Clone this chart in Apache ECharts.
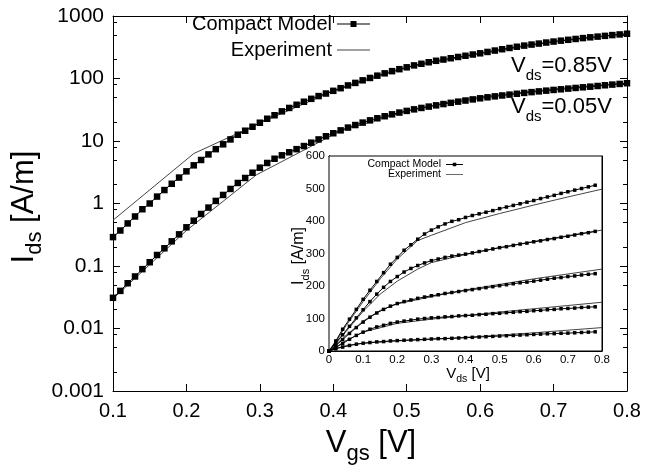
<!DOCTYPE html>
<html>
<head>
<meta charset="utf-8">
<script src="https://cdn.jsdelivr.net/npm/echarts@6/dist/echarts.min.js"></script>
<style>
html, body { margin: 0; padding: 0; background: #fff; }
#chart { width: 645px; height: 466px; }
</style>
</head>
<body>
<div id="chart"></div>
<script>
// main plot: Ids vs Vgs (log scale), model every 0.01 V
var VGS_MODEL = [0.10, 0.11, 0.12, 0.13, 0.14, 0.15, 0.16, 0.17, 0.18, 0.19,
    0.20, 0.21, 0.22, 0.23, 0.24, 0.25, 0.26, 0.27, 0.28, 0.29,
    0.30, 0.31, 0.32, 0.33, 0.34, 0.35, 0.36, 0.37, 0.38, 0.39,
    0.40, 0.41, 0.42, 0.43, 0.44, 0.45, 0.46, 0.47, 0.48, 0.49,
    0.50, 0.51, 0.52, 0.53, 0.54, 0.55, 0.56, 0.57, 0.58, 0.59,
    0.60, 0.61, 0.62, 0.63, 0.64, 0.65, 0.66, 0.67, 0.68, 0.69,
    0.70, 0.71, 0.72, 0.73, 0.74, 0.75, 0.76, 0.77, 0.78, 0.79, 0.80];
var MODEL_VDS085 = [0.29, 0.37, 0.48, 0.62, 0.81, 1.0, 1.29, 1.64, 2.07, 2.6,
    3.27, 4.08, 4.97, 6.1, 7.4, 8.85, 10.6, 12.6, 14.6, 16.9,
    19.6, 22.7, 25.8, 29.8, 33.8, 38, 42.5, 47.3, 52.3, 57.5,
    63.5, 70, 77.5, 85, 93.5, 102, 111, 121, 131, 141,
    151, 162, 172, 182, 192, 201, 211, 221, 231, 242,
    253, 266, 280, 294, 308, 322, 336, 349, 362, 376,
    390, 403, 416, 429, 443, 456, 468, 481, 495, 507, 520];
var MODEL_VDS005 = [0.031, 0.040, 0.053, 0.068, 0.089, 0.115, 0.150, 0.192, 0.248, 0.321,
    0.416, 0.531, 0.68, 0.86, 1.10, 1.37, 1.71, 2.13, 2.56, 3.11,
    3.74, 4.45, 5.2, 5.9, 6.6, 7.4, 8.3, 9.4, 10.6, 11.9,
    13.3, 14.8, 16.4, 18.0, 19.7, 21.4, 23.1, 24.9, 26.7, 28.5,
    30.3, 32.1, 33.8, 35.5, 37.2, 39.0, 40.8, 42.6, 44.4, 46.3,
    48.2, 50.0, 51.8, 53.5, 55.2, 57.0, 58.8, 60.5, 62.2, 63.9,
    65.6, 67.2, 68.9, 70.6, 72.3, 74.0, 75.9, 77.9, 79.9, 81.9, 84.0];
var EXP_VDS085 = [[0.10, 0.54], [0.21, 6.3], [0.27, 13.3], [0.30, 19.4], [0.40, 63],
    [0.50, 150], [0.60, 250], [0.70, 388], [0.80, 518]];
var EXP_VDS005 = [[0.10, 0.030], [0.20, 0.37], [0.295, 2.86], [0.41, 14.5], [0.50, 30],
    [0.58, 48], [0.70, 68], [0.80, 85]];

// inset: Ids vs Vds (linear), model every 0.02 V
var VDS_MODEL = [0, 0.02, 0.04, 0.06, 0.08, 0.10, 0.12, 0.14, 0.16, 0.18,
    0.20, 0.22, 0.24, 0.26, 0.28, 0.30, 0.32, 0.34, 0.36, 0.38,
    0.40, 0.42, 0.44, 0.46, 0.48, 0.50, 0.52, 0.54, 0.56, 0.58,
    0.60, 0.62, 0.64, 0.66, 0.68, 0.70, 0.72, 0.74, 0.76, 0.78];
var MODEL_VGS08 = [0, 31, 67, 98, 128, 159, 187, 214, 241, 267, 288, 310, 327, 344, 360, 372, 382, 391, 399, 404,
    411, 417, 422, 427, 432, 438, 443, 448, 453, 458, 463, 469, 474, 479, 485, 490, 495, 500, 505, 510];
var MODEL_VGS07 = [0, 26, 50, 76, 102, 127, 152, 175, 196, 214, 229, 243, 254, 263, 271, 278, 283, 288, 292, 295,
    298, 302, 306, 310, 314, 318, 321, 325, 329, 332, 336, 339, 343, 346, 350, 353, 357, 361, 364, 368];
var MODEL_VGS06 = [0, 17, 35, 54, 72, 89, 104, 117, 128, 138, 146, 152, 157, 162, 166, 170, 173, 177, 180, 183,
    186, 189, 192, 195, 198, 201, 204, 207, 210, 212, 215, 218, 221, 224, 226, 229, 231, 234, 236, 238];
var MODEL_VGS05 = [0, 11, 23, 36, 48, 58, 67, 74, 79, 85, 89, 92, 95, 98, 100, 102, 103, 105, 106, 108,
    109, 110, 112, 113, 115, 116, 118, 119, 121, 122, 124, 125, 127, 128, 130, 131, 132, 134, 135, 136];
var MODEL_VGS04 = [0, 7, 12, 17, 21, 24, 26, 28, 29, 31, 32, 33, 34, 35, 36, 37, 38, 38, 39, 40,
    41, 42, 43, 44, 45, 46, 47, 48, 49, 50, 51, 52, 53, 53.5, 54.5, 55, 56, 57, 58, 59];
var EXP_VGS08 = [[0, 0], [0.02, 28], [0.05, 78], [0.10, 152], [0.15, 222], [0.20, 283], [0.26, 340],
    [0.30, 356], [0.40, 395], [0.50, 423], [0.60, 449], [0.70, 474], [0.80, 498]];
var EXP_VGS07 = [[0, 0], [0.02, 24], [0.05, 60], [0.10, 122], [0.15, 175], [0.20, 215], [0.26, 252],
    [0.30, 272], [0.40, 297], [0.50, 318], [0.60, 337], [0.70, 355], [0.80, 372]];
var EXP_VGS06 = [[0, 0], [0.02, 20], [0.05, 48], [0.10, 92], [0.15, 125], [0.20, 145], [0.30, 167],
    [0.40, 188], [0.50, 205], [0.60, 222], [0.70, 237], [0.80, 252]];
var EXP_VGS05 = [[0, 0], [0.02, 12], [0.05, 32], [0.10, 58], [0.20, 85], [0.30, 98], [0.40, 109],
    [0.50, 120], [0.60, 130], [0.70, 140], [0.80, 150]];
var EXP_VGS04 = [[0, 0], [0.02, 8], [0.05, 16], [0.10, 24], [0.20, 31], [0.30, 36], [0.40, 42],
    [0.50, 49], [0.60, 56], [0.70, 64], [0.80, 72]];

var MINOR_MULT = [2, 5, 8]; // minor ticks inside each decade
var VDS_LABELS = ['0.85', '0.05'];
var VGS_LABELS = ['0.8', '0.7', '0.6', '0.5', '0.4'];

var FONT = "'Liberation Sans', Arial, Helvetica, sans-serif";
var ICON_MODEL = 'path://M0,3.5H13.5V1H19.5V3.5H33V4.5H19.5V7H13.5V4.5H0Z';
var ICON_EXP = 'path://M0,3.5H33V4.5H0Z';
var ICON_MODEL_S = 'path://M0,1.6H6.75V0.25H10.25V1.6H17V2.4H10.25V3.75H6.75V2.4H0Z';
var ICON_EXP_S = 'path://M0,1.6H17V2.4H0Z';

function pairs(xs, ys) {
    return xs.map(function (x, i) { return [x, ys[i]]; });
}

// minor tick positions, in decades (for a linear helper axis -3..3)
var minorTicks = [];
for (var e = -3; e < 3; e++) {
    MINOR_MULT.forEach(function (m) {
        minorTicks.push(e + Math.log10(m));
    });
}

var chart = echarts.init(document.getElementById('chart'), null, { renderer: 'canvas' });

function xAx(grid, min, max, pos, labels, fs, tickLen) {
    return {
        gridIndex: grid, type: 'value', min: min, max: max, interval: 0.1, position: pos,
        axisLine: { onZero: false, lineStyle: { color: '#000', width: 1 } },
        axisTick: { inside: true, length: tickLen, lineStyle: { color: '#000' } },
        axisLabel: {
            show: labels, fontSize: fs, color: '#000', fontFamily: FONT, margin: grid === 0 ? 10 : 3,
            formatter: function (v) { return v === 0 ? '0' : v.toFixed(1); }
        },
        splitLine: { show: false }
    };
}

function subRich(big, small, lh) {
    return {
        v: { fontSize: big, lineHeight: lh, fontFamily: FONT, color: '#000' },
        s: { fontSize: small, lineHeight: small, verticalAlign: 'bottom', fontFamily: FONT, color: '#000' }
    };
}

function logAx(pos, opts) {
    var a = {
        gridIndex: 0, type: 'log', logBase: 10, min: 0.001, max: 1000, position: pos,
        axisLine: { show: true, onZero: false, lineStyle: { color: '#000', width: 1 } },
        axisTick: { inside: true, length: 7, lineStyle: { color: '#000' } },
        axisLabel: { show: false },
        splitLine: { show: false }
    };
    return Object.assign(a, opts || {});
}

var yMain = logAx('left', {
    axisLabel: {
        show: true, fontSize: 21, color: '#000', fontFamily: FONT, margin: 9,
        formatter: function (v) { return String(+(+v).toPrecision(4)); }
    }
});

function minorAx(pos) {
    return {
        gridIndex: 0, type: 'value', min: -3, max: 3, position: pos,
        axisLine: { show: false },
        axisTick: { show: true, inside: true, length: 4, customValues: minorTicks, lineStyle: { color: '#000' } },
        axisLabel: { show: false },
        splitLine: { show: false }
    };
}

function linAx(pos, labels) {
    return {
        gridIndex: 1, type: 'value', min: 0, max: 600, interval: 100, position: pos,
        axisLine: { onZero: false, lineStyle: { color: '#000', width: 1 } },
        axisTick: { inside: true, length: 4, lineStyle: { color: '#000' } },
        axisLabel: { show: labels, fontSize: 11.5, color: '#000', fontFamily: FONT, margin: 4 },
        splitLine: { show: false }
    };
}

function modelSeries(data, xi, yi, size) {
    return {
        name: 'Compact Model', type: 'line', xAxisIndex: xi, yAxisIndex: yi, data: data,
        symbol: 'rect', symbolSize: size, showSymbol: true,
        itemStyle: { color: '#000' }, lineStyle: { color: '#000', width: 1 }, z: 3
    };
}
function expSeries(data, xi, yi) {
    return {
        name: 'Experiment', type: 'line', xAxisIndex: xi, yAxisIndex: yi, data: data,
        symbol: 'none', lineStyle: { color: '#444', width: 1 }, z: 2
    };
}

var series = [
    expSeries(EXP_VDS085, 0, 0),
    expSeries(EXP_VDS005, 0, 0),
    modelSeries(pairs(VGS_MODEL, MODEL_VDS085), 0, 0, 6.5),
    modelSeries(pairs(VGS_MODEL, MODEL_VDS005), 0, 0, 6.5),
    expSeries(EXP_VGS08, 2, 6),
    expSeries(EXP_VGS07, 2, 6),
    expSeries(EXP_VGS06, 2, 6),
    expSeries(EXP_VGS05, 2, 6),
    expSeries(EXP_VGS04, 2, 6),
    modelSeries(pairs(VDS_MODEL, MODEL_VGS08), 2, 6, 3.5),
    modelSeries(pairs(VDS_MODEL, MODEL_VGS07), 2, 6, 3.5),
    modelSeries(pairs(VDS_MODEL, MODEL_VGS06), 2, 6, 3.5),
    modelSeries(pairs(VDS_MODEL, MODEL_VGS05), 2, 6, 3.5),
    modelSeries(pairs(VDS_MODEL, MODEL_VGS04), 2, 6, 3.5)
];

function legendOf(name, icon, color, right, top, w, h, fs) {
    return {
        data: [{ name: name, icon: icon, itemStyle: { color: color, borderWidth: 0 } }],
        orient: 'vertical', align: 'right', right: right, top: top, padding: 0,
        itemWidth: w, itemHeight: h, selectedMode: false,
        textStyle: { fontSize: fs, color: '#000', fontFamily: FONT }
    };
}

var graphics = [];
// axis titles
function title(text, x, y, rot, rich) {
    return {
        type: 'text', x: x, y: y, rotation: rot,
        style: { text: text, rich: rich, align: 'center', verticalAlign: 'middle', fill: '#000' }
    };
}
graphics.push(title('{v|I}{s|ds}{v| [A/m]}', 24, 207, Math.PI / 2, subRich(31, 22, 44)));
graphics.push(title('{v|V}{s|gs}{v| [V]}', 371, 443, 0, subRich(31, 22, 44)));
graphics.push(title('{v|I}{s|ds}{v| [A/m]}', 299, 256, Math.PI / 2, subRich(16, 11, 24)));
graphics.push(title('{v|V}{s|ds}{v| [V]}', 468, 374, 0, subRich(15, 10.5, 22)));

var vdsTops = [55, 96];
VDS_LABELS.forEach(function (t, i) {
    graphics.push({
        type: 'text', left: 511, top: vdsTops[i],
        style: { text: '{v|V}{s|ds}{v|=' + t + 'V}', rich: subRich(22, 15, 34), fill: '#000' }
    });
});
var vgsTops = [184, 230, 262, 294, 315];
VGS_LABELS.forEach(function (t, i) {
    graphics.push({
        type: 'text', left: 465, top: vgsTops[i],
        style: { text: '{v|V}{s|gs}{v|=' + t + 'V}', rich: subRich(11, 8, 18), fill: '#000' }
    });
});

chart.setOption({
    animation: false,
    backgroundColor: '#fff',
    grid: [
        { left: 113, right: 18, top: 16, bottom: 75 },
        { left: 329, right: 43, top: 156, bottom: 115, show: true, backgroundColor: '#fff', borderColor: '#000', borderWidth: 1, z: 1 }
    ],
    legend: [
        legendOf('Compact Model', ICON_MODEL, '#000', 275, 14, 33, 8, 20),
        legendOf('Experiment', ICON_EXP, '#444', 275, 40, 33, 8, 20),
        legendOf('Compact Model', ICON_MODEL_S, '#000', 182, 159, 17, 4, 10.5),
        legendOf('Experiment', ICON_EXP_S, '#444', 182, 169, 17, 4, 10.5)
    ],
    xAxis: [
        xAx(0, 0.1, 0.8, 'bottom', true, 20, 7),
        xAx(0, 0.1, 0.8, 'top', false, 20, 7),
        xAx(1, 0, 0.8, 'bottom', true, 11.5, 4),
        xAx(1, 0, 0.8, 'top', false, 11.5, 4)
    ],
    yAxis: [
        yMain,
        logAx('right'),
        minorAx('left'),
        minorAx('right'),
        linAx('left', true),
        linAx('right', false),
        linAx('left', false)
    ],
    graphic: graphics,
    series: series
});
</script>
</body>
</html>
